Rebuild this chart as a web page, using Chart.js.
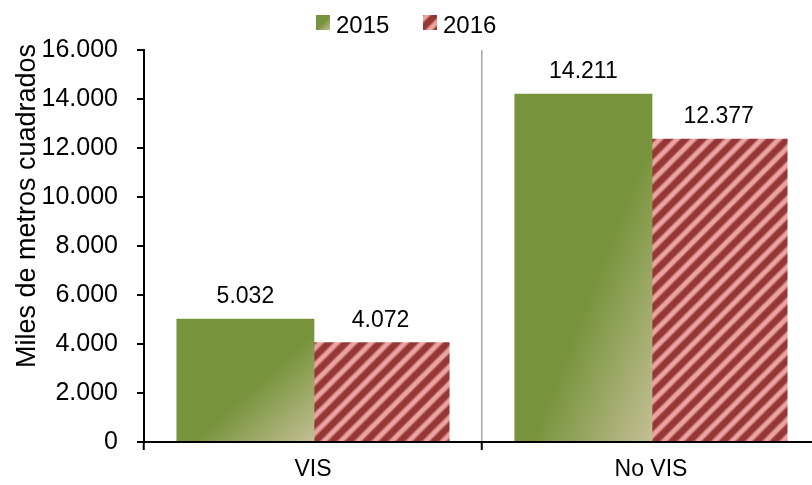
<!DOCTYPE html>
<html><head><meta charset="utf-8">
<script src="https://cdn.jsdelivr.net/npm/chart.js@4.4.0/dist/chart.umd.min.js"></script>
<style>
html,body{margin:0;padding:0;overflow:hidden;background:#fff;}
#wrap{position:relative;width:830px;height:485px;}
</style></head><body>
<div id="wrap"><canvas id="c" width="830" height="485"></canvas></div>
<script>
// ---- data ----
const categories = ['VIS', 'No VIS'];
const seriesNames = ['2015', '2016'];
const values2015 = [5032, 14211];
const values2016 = [4072, 12377];
const yMin = 0, yMax = 16000, yStep = 2000;
const yAxisTitle = 'Miles de metros cuadrados';

// ---- styles ----
const FONT = "'Liberation Sans', Arial, sans-serif";
const GREEN = '#77933C', TAN = '#C4BF95';
const RED = '#953735', PINK = '#E8A4A2';
const CAT_PCT = 0.80, BAR_PCT = 1.02;

function fmt(n) { return String(Math.round(n)).replace(/\B(?=(\d{3})+(?!\d))/g, '.'); }

// hatch pattern
const T = 17;
const pc = document.createElement('canvas');
pc.width = T; pc.height = T;
const p = pc.getContext('2d');
p.fillStyle = RED; p.fillRect(0, 0, T, T);
function stripes(w, col) {
  p.strokeStyle = col; p.lineWidth = w; p.lineCap = 'butt';
  for (const o of [-T, 0, T]) {
    p.beginPath(); p.moveTo(o - 2, T + 2); p.lineTo(o + T + 2, -2); p.stroke();
  }
}
stripes(6.5, '#C06866');
stripes(4, PINK);
const hatch = p.createPattern(pc, 'repeat');

function greenFill(ctx) {
  const chart = ctx.chart;
  if (ctx.type !== 'data' || !chart.chartArea) return GREEN;
  const xs = chart.scales.x, ys = chart.scales.y;
  const cat = xs.width / categories.length;
  const slot = cat * CAT_PCT / 2;
  const w = slot * BAR_PCT;
  const cx = xs.getPixelForValue(ctx.dataIndex) - slot / 2;
  const top = ys.getPixelForValue(ctx.raw), bot = ys.getPixelForValue(0);
  const h = bot - top;
  const cy = (top + bot) / 2;
  const s = -w * h / (h * h + w * w);
  const g = chart.ctx.createLinearGradient(cx + s * h, cy + s * w, cx - s * h, cy - s * w);
  g.addColorStop(0, GREEN); g.addColorStop(0.56, GREEN); g.addColorStop(1, TAN);
  return g;
}

const labelPlugin = {
  id: 'valueLabels',
  afterDatasetsDraw(chart) {
    const c = chart.ctx;
    c.save();
    c.font = '23px ' + FONT; c.fillStyle = '#000';
    c.textAlign = 'center'; c.textBaseline = 'middle';
    chart.data.datasets.forEach((ds, i) => {
      chart.getDatasetMeta(i).data.forEach((el, j) => {
        c.fillText(fmt(ds.data[j]), el.x, el.y - 22);
      });
    });
    c.restore();
  }
};

const decoPlugin = {
  id: 'deco',
  afterDraw(chart) {
    const c = chart.ctx;
    c.save();
    // y-axis title
    c.font = '27px ' + FONT; c.fillStyle = '#000';
    c.translate(35, 206); c.rotate(-Math.PI / 2);
    c.textAlign = 'center'; c.textBaseline = 'alphabetic';
    c.fillText(yAxisTitle, 0, 0);
    c.restore();
    // legend
    c.save();
    c.font = '24px ' + FONT; c.fillStyle = '#000'; c.textBaseline = 'alphabetic'; c.textAlign = 'left';
    const items = [{x: 316, fill: 'g'}, {x: 423, fill: 'h'}];
    items.forEach((it, i) => {
      if (it.fill === 'g') {
        const g = c.createLinearGradient(it.x, 15, it.x + 14, 30);
        g.addColorStop(0, GREEN); g.addColorStop(0.5, GREEN); g.addColorStop(1, TAN);
        c.fillStyle = g;
      } else c.fillStyle = hatch;
      c.fillRect(it.x, 15, 14, 15);
      c.fillStyle = '#000';
      c.fillText(seriesNames[i], it.x + 20, 33);
    });
    c.restore();
  }
};

Chart.defaults.font.family = FONT;
Chart.defaults.color = '#000';

new Chart(document.getElementById('c'), {
  type: 'bar',
  data: {
    labels: categories,
    datasets: [
      { label: seriesNames[0], data: values2015, backgroundColor: greenFill, borderWidth: 0 },
      { label: seriesNames[1], data: values2016, backgroundColor: hatch, borderWidth: 0 }
    ]
  },
  options: {
    responsive: false, animation: false, devicePixelRatio: 1,
    layout: { padding: { top: 50, right: 10, left: 0, bottom: 0 } },
    datasets: { bar: { categoryPercentage: CAT_PCT, barPercentage: BAR_PCT } },
    plugins: { legend: { display: false }, tooltip: { enabled: false } },
    scales: {
      x: {
        offset: true,
        grid: {
          offset: true, drawOnChartArea: true, drawTicks: true, tickLength: 8,
          color: (ctx) => ctx.index === 1 ? '#A6A6A6' : 'rgba(0,0,0,0)',
          lineWidth: 1.5, tickColor: '#000', tickWidth: 2
        },
        border: { color: '#000', width: 2 },
        ticks: { color: '#000', font: { size: 23 }, padding: 6 },
        afterFit: (s) => { s.height = 43; }
      },
      y: {
        min: yMin, max: yMax,
        grid: { drawOnChartArea: false, drawTicks: true, tickLength: 7, color: '#000', tickWidth: 2, lineWidth: 2 },
        border: { color: '#000', width: 2 },
        ticks: { stepSize: yStep, color: '#000', font: { size: 25 }, padding: 19, callback: (v) => fmt(v) },
        afterFit: (s) => { s.width = 144; }
      }
    }
  },
  plugins: [labelPlugin, decoPlugin]
});
</script>
</body></html>
